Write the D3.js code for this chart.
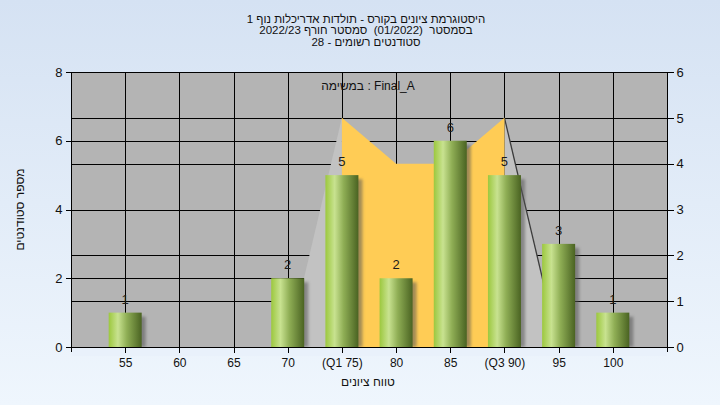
<!DOCTYPE html>
<html><head><meta charset="utf-8">
<script src="https://cdn.jsdelivr.net/npm/d3@7"></script>
<style>html,body{margin:0;padding:0;overflow:hidden;}svg{display:block;}</style>
</head><body>
<svg id="c" width="720" height="405"></svg>
<script>
const titleLines = ["היסטוגרמת ציונים בקורס - תולדות אדריכלות נוף 1", "בסמסטר  (01/2022)  סמסטר חורף 2022/23", "סטודנטים רשומים - 28"];
const taskLabel = "במשימה : Final_A";
const yAxisTitle = "מספר סטודנטים";
const xAxisTitle = "טווח ציונים";
const categories = ["55","60","65","70","(Q1 75)","80","85","(Q3 90)","95","100"];
const scoreValues = [55,60,65,70,75,80,85,90,95,100];
const counts = [1,0,0,2,5,2,6,5,3,1];
const boxScores = [75,80,85,90];
const boxLevels = [5,4,4,5];
const leftWhiskerScores = [70,75,75];
const leftWhiskerLevels = [0,5,0];
const rightWhiskerScores = [90,95,90];
const rightWhiskerLevels = [5,0,0];
const leftTicks = [0,2,4,6,8];
const rightTicks = [0,1,2,3,4,5,6];

const svg = d3.select("#c");
const W = 720, H = 405;
const L = 71, R = 667, T = 72, B = 347;
const font = "'Liberation Sans', Arial, 'DejaVu Sans', sans-serif";

const defs = svg.append("defs");
const bg = defs.append("linearGradient").attr("id","bg").attr("x1",0).attr("y1",0).attr("x2",0).attr("y2",1);
bg.append("stop").attr("offset","0%").attr("stop-color","#d5e2f3");
bg.append("stop").attr("offset","100%").attr("stop-color","#eff6fd");
const bar = defs.append("linearGradient").attr("id","bar").attr("x1",0).attr("y1",0).attr("x2",1).attr("y2",0);
[["0%","#9cc83e"],["28%","#c8e290"],["55%","#8fae55"],["100%","#4a6322"]].forEach(s=>bar.append("stop").attr("offset",s[0]).attr("stop-color",s[1]));
const sh = defs.append("filter").attr("id","sh").attr("x","-20%").attr("y","-20%").attr("width","160%").attr("height","140%");
sh.append("feGaussianBlur").attr("stdDeviation",1.6);

svg.append("rect").attr("width",W).attr("height",H).attr("fill","url(#bg)");

const x = d3.scaleLinear().domain([50,105]).range([L,R]);
const yL = d3.scaleLinear().domain([0,8]).range([B,T]);
const yR = d3.scaleLinear().domain([0,6]).range([B,T]);

svg.append("rect").attr("x",L).attr("y",T).attr("width",R-L).attr("height",B-T).attr("fill","#b4b4b4");

const grid = svg.append("g").attr("stroke","#000").attr("stroke-width",1).attr("shape-rendering","crispEdges");
leftTicks.forEach(v=>grid.append("line").attr("x1",L).attr("x2",R).attr("y1",Math.round(yL(v))+0.5).attr("y2",Math.round(yL(v))+0.5));
rightTicks.forEach(v=>grid.append("line").attr("x1",L).attr("x2",R).attr("y1",Math.round(yR(v))+0.5).attr("y2",Math.round(yR(v))+0.5));
scoreValues.forEach(v=>grid.append("line").attr("x1",Math.round(x(v))+0.5).attr("x2",Math.round(x(v))+0.5).attr("y1",T).attr("y2",B));

const poly = (xs, ys) => xs.map((s,i)=>[x(s), yR(ys[i])]);
svg.append("path").attr("d", d3.line()(poly(leftWhiskerScores,leftWhiskerLevels))+"Z").attr("fill","#c2c2c2");
svg.append("path").attr("d", d3.line()(poly(rightWhiskerScores,rightWhiskerLevels))+"Z").attr("fill","#c2c2c2");
svg.append("line").attr("x1",x(rightWhiskerScores[0])).attr("y1",yR(rightWhiskerLevels[0]))
  .attr("x2",x(rightWhiskerScores[1])).attr("y2",yR(rightWhiskerLevels[1])).attr("stroke","#3c3c3c").attr("stroke-width",1.3);

const boxPts = [[x(boxScores[0]), yR(0)]].concat(boxScores.map((s,i)=>[x(s), yR(boxLevels[i])])).concat([[x(boxScores[boxScores.length-1]), yR(0)]]);
svg.append("path").attr("d", d3.line()(boxPts)+"Z").attr("fill","#ffcc55");

const step = x(60)-x(55);
const bw = Math.round(step*0.61);
const data = scoreValues.map((s,i)=>({s, c:counts[i]})).filter(d=>d.c>0);
const bars = svg.append("g");
bars.selectAll("rect.sh").data(data).join("rect").attr("class","sh")
  .attr("x",d=>x(d.s)-bw/2+4).attr("y",d=>yL(d.c)+4).attr("width",bw).attr("height",d=>B-yL(d.c)-4)
  .attr("fill","#555").attr("opacity",0.55).attr("filter","url(#sh)");
svg.append("rect").attr("x",L).attr("y",B+1).attr("width",R-L).attr("height",8).attr("fill","#e9f1fb");
bars.selectAll("rect.b").data(data).join("rect").attr("class","b")
  .attr("x",d=>x(d.s)-bw/2).attr("y",d=>yL(d.c)).attr("width",bw).attr("height",d=>B-yL(d.c))
  .attr("fill","url(#bar)");
svg.append("g").selectAll("text").data(data).join("text")
  .attr("x",d=>x(d.s)).attr("y",d=>yL(d.c)-9).attr("text-anchor","middle")
  .attr("font-family",font).attr("font-size",13).attr("fill","#1b1b1b").text(d=>d.c);

const axL = svg.append("g").attr("transform",`translate(${L+0.5},0)`).call(d3.axisLeft(yL).tickValues(leftTicks).tickSize(6).tickPadding(3).tickFormat(d3.format("d")));
const axR = svg.append("g").attr("transform",`translate(${R+0.5},0)`).call(d3.axisRight(yR).tickValues(rightTicks).tickSize(6).tickPadding(3).tickFormat(d3.format("d")));
const axB = svg.append("g").attr("transform",`translate(0,${B+0.5})`).call(d3.axisBottom(x).tickValues(scoreValues).tickSize(5).tickPadding(6).tickFormat((d,i)=>categories[i]));
[axL,axR,axB].forEach(a=>{
  a.select(".domain").remove();
  a.selectAll("line").attr("stroke","#000").attr("shape-rendering","crispEdges");
  a.selectAll("text").attr("font-family",font).attr("fill","#111");
});
axL.selectAll("text").attr("font-size",13);
axR.selectAll("text").attr("font-size",13);
axB.selectAll("text").attr("font-size",12);
const ax = svg.append("g").attr("stroke","#000").attr("shape-rendering","crispEdges");
ax.append("line").attr("x1",L+0.5).attr("x2",L+0.5).attr("y1",T).attr("y2",B+5);
ax.append("line").attr("x1",R+0.5).attr("x2",R+0.5).attr("y1",T).attr("y2",B+5);
ax.append("line").attr("x1",L).attr("x2",R).attr("y1",B+0.5).attr("y2",B+0.5);

const txt = (p) => p.append("text").attr("text-anchor","middle").attr("font-family",font).attr("fill","#111");
titleLines.forEach((t,i)=>txt(svg).attr("x",366).attr("y",22.5+i*11.8).attr("font-size",11.5).style("white-space","pre").text(t));
txt(svg).attr("x",368).attr("y",90).attr("font-size",12).text(taskLabel);
txt(svg).attr("x",368).attr("y",386).attr("font-size",12).text(xAxisTitle);
txt(svg).attr("transform",`translate(20,${(T+B)/2}) rotate(-90)`).attr("y",4).attr("font-size",12).text(yAxisTitle);
</script>
</body></html>
